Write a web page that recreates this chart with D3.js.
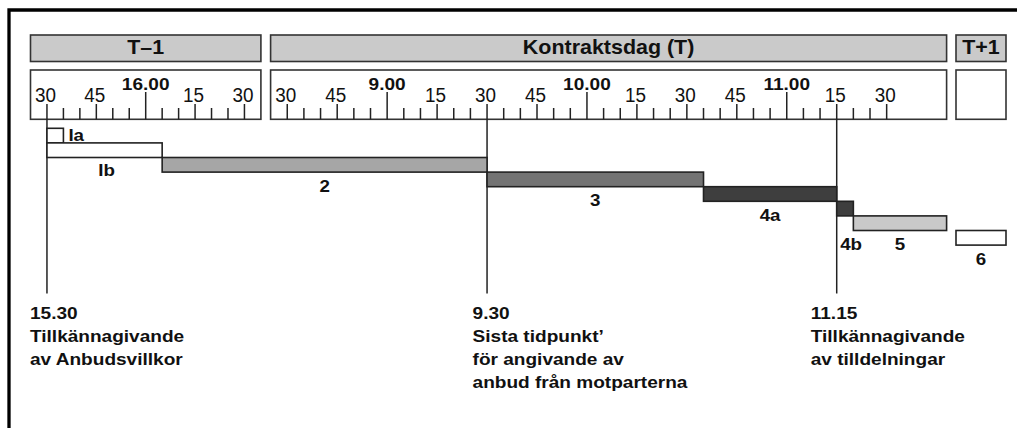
<!DOCTYPE html>
<html><head><meta charset="utf-8">
<script src="https://cdn.jsdelivr.net/npm/d3@7"></script>
<style>html,body{margin:0;padding:0;background:#fff;overflow:hidden}</style>
</head><body>
<svg id="c" width="1017" height="428"></svg>
<script>
// ---- data ----
const dayNames = ["T–1", "Kontraktsdag (T)", "T+1"];
// visible window of each day (minutes after midnight; T+1 has no clock scale)
const dayWindowStart = [925, 505, 0];
const dayWindowEnd = [995, 708, 1];
// ruler ticks (every 5 minutes) and their quarter-hour labels
const tickFrom = [930, 510];
const tickTo = [990, 690];
const tickLabelsT1 = ["30", "45", "16.00", "15", "30"];
const tickLabelsT = ["30", "45", "9.00", "15", "30", "45", "10.00", "15", "30", "45", "11.00", "15", "30"];
// phases
const barNames = ["Ia", "Ib", "2", "3", "4a", "4b", "5", "6"];
const barStartDay = [0, 0, 0, 1, 1, 1, 1, 2];
const barStart = [930, 930, 965, 570, 635, 675, 680, 0];
const barEndDay = [0, 0, 1, 1, 1, 1, 1, 2];
const barEnd = [935, 965, 570, 635, 675, 680, 708, 1];
// milestones
const milestoneDay = [0, 1, 1];
const milestoneTime = [930, 570, 675];
const milestoneText = [
  ["15.30", "Tillkännagivande", "av Anbudsvillkor"],
  ["9.30", "Sista tidpunkt’", "för angivande av", "anbud från motparterna"],
  ["11.15", "Tillkännagivande", "av tilldelningar"]
];

// ---- styles / layout ----
const FONT = "'Liberation Sans', Arial, Helvetica, sans-serif";
const barFill = ["#ffffff", "#ffffff", "#a6a6a6", "#737373", "#3e3e3e", "#3e3e3e", "#c9c9c9", "#ffffff"];
const boxRanges = [[30.5, 260.9], [270.6, 946.6], [956, 1006]];
const headerY = [35, 61.5], rulerY = [70, 119.3];
const milestoneDx = [-17, -14.5, -26];

const svg = d3.select("#c");
const x = dayNames.map((d, i) => d3.scaleLinear().domain([dayWindowStart[i], dayWindowEnd[i]]).range(boxRanges[i]));
const pos = (day, t) => x[day](t);
const y = d3.scaleBand().domain(barNames).range([128.3, 245.1]).padding(0);

function txt(g, px, py, s, o) {
  return g.append("text")
    .attr("transform", `translate(${px},${py}) scale(${o.sx || 1},1)`)
    .attr("text-anchor", o.anchor || "middle")
    .attr("font-family", FONT)
    .attr("font-size", o.fs)
    .attr("font-weight", o.bold ? "bold" : "normal")
    .attr("fill", "#111")
    .text(s);
}

// outer frame (only top/left visible)
svg.append("path").attr("d", "M9,440V10H1030").attr("fill", "none").attr("stroke", "#000").attr("stroke-width", 3.3);

// header boxes and ruler boxes
dayNames.forEach((name, i) => {
  const [a, b] = [x[i](dayWindowStart[i]), x[i](dayWindowEnd[i])];
  svg.append("rect").attr("x", a).attr("y", headerY[0]).attr("width", b - a).attr("height", headerY[1] - headerY[0])
    .attr("fill", "#cacaca").attr("stroke", "#333").attr("stroke-width", 1.6);
  txt(svg, (a + b) / 2, 54, name, {fs: 19.5, sx: 1.1, bold: true});
  svg.append("rect").attr("x", a).attr("y", rulerY[0]).attr("width", b - a).attr("height", rulerY[1] - rulerY[0])
    .attr("fill", "#fff").attr("stroke", "#333").attr("stroke-width", 1.6);
});

// ruler ticks
[tickLabelsT1, tickLabelsT].forEach((labels, i) => {
  const ticks = d3.range(tickFrom[i], tickTo[i] + 1, 5);
  const g = svg.append("g");
  g.selectAll("line").data(ticks).join("line")
    .attr("x1", t => x[i](t)).attr("x2", t => x[i](t))
    .attr("y1", t => t % 60 === 0 ? 92 : (t % 15 === 0 ? 104 : 108))
    .attr("y2", rulerY[1])
    .attr("stroke", "#222").attr("stroke-width", 1.5);
  labels.forEach((lab, k) => {
    const t = tickFrom[i] + k * 15;
    if (t % 60 === 0) txt(g, x[i](t), 89.5, lab, {fs: 16.3, sx: 1.17, bold: true});
    else txt(g, x[i](t) - 1.5, 102, lab, {fs: 19.5, sx: 0.97});
  });
});

// milestone lines
const mx = milestoneTime.map((t, i) => pos(milestoneDay[i], t));
svg.selectAll("line.ms").data(mx).join("line").attr("class", "ms")
  .attr("x1", d => d).attr("x2", d => d).attr("y1", rulerY[1]).attr("y2", 293.5)
  .attr("stroke", "#222").attr("stroke-width", 1.5);

// bars
barNames.forEach((n, i) => {
  const x0 = pos(barStartDay[i], barStart[i]);
  const x1 = pos(barEndDay[i], barEnd[i]);
  const yt = y(n), h = y.bandwidth();
  svg.append("rect").attr("x", x0).attr("y", yt).attr("width", x1 - x0).attr("height", h)
    .attr("fill", barFill[i]).attr("stroke", "#222").attr("stroke-width", 1.6);
  const opt = {fs: 16.3, sx: 1.15, bold: true};
  if (n === "Ia") txt(svg, x1 + 5, yt + h / 2 + 5.5, n, Object.assign({anchor: "start"}, opt));
  else if (n === "4b") txt(svg, x0 + 3.5, yt + h + 34, n, Object.assign({anchor: "start"}, opt));
  else if (n === "Ib") txt(svg, (x0 + x1) / 2 + 2, yt + h + 18, n, opt);
  else txt(svg, (x0 + x1) / 2, yt + h + 19.5, n, opt);
});

// milestone texts
milestoneText.forEach((lines, i) => {
  lines.forEach((s, k) => {
    txt(svg, mx[i] + milestoneDx[i], 318.5 + k * 23.2, s, {fs: 16.3, sx: 1.17, bold: true, anchor: "start"});
  });
});
</script>
</body></html>
